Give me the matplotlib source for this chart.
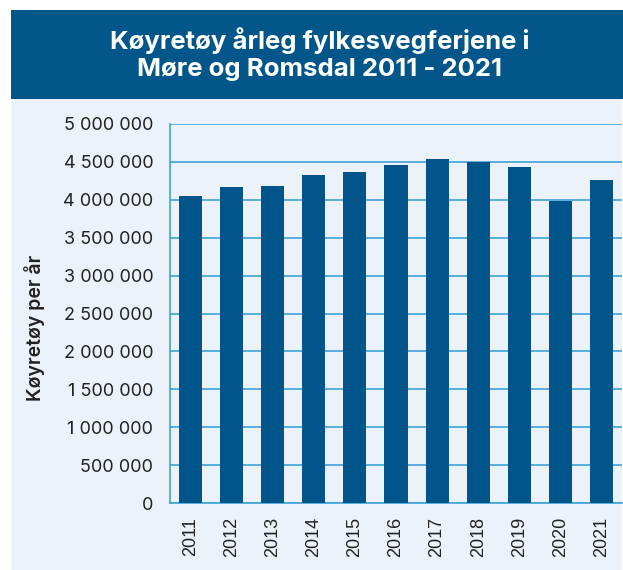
import matplotlib
matplotlib.use("Agg")
import matplotlib.pyplot as plt
from matplotlib.patches import Rectangle
from matplotlib.ticker import FuncFormatter

# Køyretøy per år på fylkesvegferjene
YEARS = ["2011", "2012", "2013", "2014", "2015", "2016",
         "2017", "2018", "2019", "2020", "2021"]
VEHICLES = [4050000, 4170000, 4180000, 4330000, 4370000, 4460000,
            4540000, 4500000, 4430000, 3990000, 4260000]
Y_TICKS = [0, 500000, 1000000, 1500000, 2000000, 2500000,
           3000000, 3500000, 4000000, 4500000, 5000000]

BANNER = "#02568A"
BAR = "#02558A"
PANEL = "#EBF2F9"
GRID = "#3FA3D6"
TEXT = "#222222"

W, H = 623, 570
fig = plt.figure(figsize=(W / 100, H / 100), dpi=100)
fig.patch.set_facecolor("white")

# panel background and title banner
fig.patches.append(Rectangle((11 / W, 0), 611 / W, (H - 99) / H,
                             transform=fig.transFigure, facecolor=PANEL,
                             edgecolor="none", zorder=-2))
fig.patches.append(Rectangle((11 / W, (H - 99) / H), 612 / W, 89 / H,
                             transform=fig.transFigure, facecolor=BANNER,
                             edgecolor="none", zorder=-2))
fig.text(320 / W, 1 - 54 / H, "Køyretøy årleg fylkesvegferjene i\nMøre og Romsdal 2011 - 2021",
         ha="center", va="center", color="white", fontsize=18.5,
         fontweight="bold", family="Inter", linespacing=1.2)

ax = fig.add_axes([170 / W, (H - 503) / H, 452 / W, 379 / H])
ax.set_facecolor("none")
x = range(len(YEARS))
ax.bar(x, VEHICLES, width=0.56, color=BAR, zorder=3)

ax.set_xlim(-0.5, len(YEARS) - 0.5)
ax.set_ylim(0, 5000000)
ax.set_yticks(Y_TICKS)
ax.yaxis.set_major_formatter(FuncFormatter(lambda v, p: f"{int(v):,}".replace(",", " ")))
ax.set_xticks(list(x))
ax.set_xticklabels(YEARS, rotation=90, fontsize=13, family="Liberation Sans", color=TEXT)
for lbl in ax.get_yticklabels():
    lbl.set_fontsize(13)
    lbl.set_family("Inter")
    lbl.set_color(TEXT)

ax.grid(axis="y", color=GRID, linewidth=1.2, zorder=0)
for side in ["top", "right"]:
    ax.spines[side].set_visible(False)
for side in ["left", "bottom"]:
    ax.spines[side].set_color(GRID)
    ax.spines[side].set_linewidth(1.2)
ax.tick_params(axis="y", length=0, pad=12)
ax.tick_params(axis="x", length=0, pad=10)

fig.text(35 / W, 1 - 328 / H, "Køyretøy per år", rotation=90, ha="center", va="center",
         fontsize=14, fontweight="semibold", family="Inter", color=TEXT)

fig.savefig("out.png", dpi=100)
